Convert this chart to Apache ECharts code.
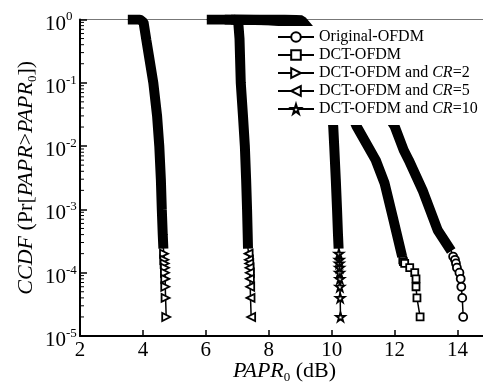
<!DOCTYPE html>
<html>
<head>
<meta charset="utf-8">
<script src="https://cdn.jsdelivr.net/npm/echarts@6/dist/echarts.min.js"></script>
<style>
  html, body { margin: 0; padding: 0; background: #fff; }
  #chart { width: 483px; height: 391px; }
</style>
</head>
<body>
<div id="chart"></div>
<script>
const FONT = 'Liberation Serif';

const seriesNames = ['Original-OFDM', 'DCT-OFDM', 'DCT-OFDM and CR=2', 'DCT-OFDM and CR=5', 'DCT-OFDM and CR=10'];

// PAPR0 (dB) / CCDF pairs; the first `band` points form the thick black band
const origPapr = [6.8, 8.2, 9.1, 9.4, 10.3, 11.0, 11.5, 12.0, 12.29, 12.45, 12.89, 13.37, 13.8, 13.86, 13.92, 13.95, 13.98, 14.06, 14.1, 14.12, 14.15, 14.18];
const origCcdf = [1, 0.97, 0.9, 0.6, 0.35, 0.12, 0.05, 0.0206, 0.0086, 0.006, 0.002, 4.7e-4, 2.2e-4, 1.8e-4, 1.6e-4, 1.4e-4, 1.2e-4, 1e-4, 8e-5, 6e-5, 4e-5, 2e-5];
const origBand = 13;

const dctPapr = [6.6, 8.0, 9.0, 9.3, 10.0, 10.4, 10.79, 11.4, 11.68, 11.94, 12.24, 12.26, 12.28, 12.32, 12.48, 12.64, 12.68, 12.68, 12.71, 12.81];
const dctCcdf = [1, 0.97, 0.9, 0.55, 0.2, 0.06, 0.0206, 0.006, 0.0026, 7.6e-4, 1.8e-4, 1.6e-4, 1.5e-4, 1.4e-4, 1.2e-4, 1e-4, 8e-5, 6e-5, 4e-5, 2e-5];
const dctBand = 11;

const cr2Papr = [3.52, 3.9, 4.02, 4.11, 4.2, 4.33, 4.45, 4.52, 4.57, 4.6, 4.63, 4.65, 4.67, 4.68, 4.69, 4.7, 4.7, 4.71, 4.71, 4.72, 4.74];
const cr2Ccdf = [1, 1, 0.9, 0.47, 0.25, 0.1, 0.03, 0.01, 0.003, 0.001, 4e-4, 2.4e-4, 2e-4, 1.6e-4, 1.4e-4, 1.2e-4, 1e-4, 8e-5, 6e-5, 4e-5, 2e-5];
const cr2Band = 12;

const cr5Papr = [6.03, 6.9, 7.03, 7.07, 7.11, 7.18, 7.24, 7.28, 7.31, 7.33, 7.34, 7.36, 7.37, 7.38, 7.39, 7.4, 7.4, 7.41, 7.42, 7.44];
const cr5Ccdf = [1, 1, 0.9, 0.5, 0.1, 0.03, 0.01, 0.003, 0.001, 4e-4, 2.4e-4, 2e-4, 1.6e-4, 1.4e-4, 1.2e-4, 1e-4, 8e-5, 6e-5, 4e-5, 2e-5];
const cr5Band = 11;

const cr10Papr = [6.9, 8.5, 9.05, 9.3, 9.8, 9.95, 10.05, 10.08, 10.13, 10.17, 10.2, 10.22, 10.23, 10.24, 10.24, 10.25, 10.25, 10.26, 10.26, 10.27, 10.28];
const cr10Ccdf = [1, 1, 0.97, 0.6, 0.2, 0.07, 0.02, 0.01, 0.003, 0.001, 4e-4, 2.4e-4, 2e-4, 1.6e-4, 1.4e-4, 1.2e-4, 1e-4, 8e-5, 6e-5, 4e-5, 2e-5];
const cr10Band = 12;

// log axis decades and minor tick mantissas
const decades = [1e-5, 1e-4, 1e-3, 1e-2, 1e-1];
const minorMantissas = [2, 3, 4, 5, 6, 7, 8, 9];

const STAR = 'path://M50,0 L61,35 L98,35 L68,57 L79,91 L50,70 L21,91 L32,57 L2,35 L39,35 Z';

const curves = [
  { x: origPapr, y: origCcdf, band: origBand, symbol: 'circle', rotate: 0, size: 8 },
  { x: dctPapr, y: dctCcdf, band: dctBand, symbol: 'rect', rotate: 0, size: 7 },
  { x: cr2Papr, y: cr2Ccdf, band: cr2Band, symbol: 'triangle', rotate: -90, size: 8 },
  { x: cr5Papr, y: cr5Ccdf, band: cr5Band, symbol: 'triangle', rotate: 90, size: 8 },
  { x: cr10Papr, y: cr10Ccdf, band: cr10Band, symbol: STAR, rotate: 0, size: 9 }
];

const minorTicks = [];
decades.forEach(d => minorMantissas.forEach(m => minorTicks.push([2, d * m])));

const series = [];
curves.forEach((c, i) => {
  series.push({
    name: seriesNames[i],
    type: 'line',
    z: 2,
    symbol: c.symbol,
    symbolSize: c.size,
    symbolRotate: c.rotate,
    lineStyle: { color: '#000', width: 1.5 },
    itemStyle: { color: '#fff', borderColor: '#000', borderWidth: 1.8 },
    data: c.x.map((x, j) => j < c.band ? { value: [x, c.y[j]], symbol: 'none' } : [x, c.y[j]])
  });
  series.push({
    type: 'line',
    z: 3,
    silent: true,
    symbol: 'none',
    lineStyle: { color: '#000', width: 10 },
    data: c.x.slice(0, c.band).map((x, j) => [x, c.y[j]])
  });
});

series.push({
  type: 'custom',
  silent: true,
  clip: false,
  z: 4,
  data: minorTicks,
  renderItem: (params, api) => {
    const p = api.coord([api.value(0), api.value(1)]);
    return {
      type: 'line',
      shape: { x1: p[0], y1: p[1], x2: p[0] + 4, y2: p[1] },
      style: { stroke: '#000', lineWidth: 1 }
    };
  }
});

const chart = echarts.init(document.getElementById('chart'));
chart.setOption({
  animation: false,
  backgroundColor: '#fff',
  grid: {
    left: 80, width: 409, top: 19.5, bottom: 55,
    outerBoundsMode: 'none',
    show: true, borderColor: '#777', borderWidth: 1
  },
  legend: {
    data: seriesNames,
    orient: 'vertical',
    left: 272,
    top: 26,
    z: 10,
    padding: [2, 10, 7, 5],
    itemGap: 0,
    itemWidth: 36,
    itemHeight: 12,
    itemTextGap: 4,
    backgroundColor: '#fff',
    formatter: name => name.replace('CR', '{i|CR}'),
    textStyle: {
      fontFamily: FONT, fontSize: 16, color: '#000', lineHeight: 18,
      rich: { i: { fontFamily: FONT, fontSize: 16, fontStyle: 'italic', color: '#000', lineHeight: 18 } }
    }
  },
  xAxis: {
    type: 'value',
    min: 2,
    max: 15,
    interval: 2,
    name: '{i|PAPR}{sub|0} (dB)',
    nameLocation: 'middle',
    nameGap: 22,
    nameMoveOverlap: false,
    nameTextStyle: {
      fontFamily: FONT, fontSize: 22, color: '#000', lineHeight: 26,
      rich: {
        i: { fontFamily: FONT, fontSize: 22, fontStyle: 'italic', color: '#000', lineHeight: 26 },
        sub: { fontFamily: FONT, fontSize: 13, color: '#000', lineHeight: 14, verticalAlign: 'bottom' }
      }
    },
    axisLine: { lineStyle: { color: '#000', width: 2 } },
    axisTick: { inside: true, length: 6, lineStyle: { color: '#000', width: 1.5 } },
    axisLabel: { fontFamily: FONT, fontSize: 21, color: '#000', margin: 4, showMaxLabel: false },
    splitLine: { show: false }
  },
  yAxis: {
    type: 'log',
    logBase: 10,
    min: 1e-5,
    max: 1,
    name: '{i|CCDF} (Pr[{i|PAPR}>{i|PAPR}{sub|0}])',
    nameLocation: 'middle',
    nameGap: 41,
    nameMoveOverlap: false,
    nameTextStyle: {
      fontFamily: FONT, fontSize: 22, color: '#000', lineHeight: 26,
      rich: {
        i: { fontFamily: FONT, fontSize: 22, fontStyle: 'italic', color: '#000', lineHeight: 26 },
        sub: { fontFamily: FONT, fontSize: 13, color: '#000', lineHeight: 14, verticalAlign: 'bottom' }
      }
    },
    axisLine: { lineStyle: { color: '#000', width: 2 } },
    axisTick: { inside: true, length: 7, lineStyle: { color: '#000', width: 1.5 } },
    axisLabel: {
      align: 'left',
      margin: 35,
      padding: [6, 0, 0, 0],
      formatter: v => '{b|10}{s|' + Math.round(Math.log10(v)) + '}',
      rich: {
        b: { fontFamily: FONT, fontSize: 21, color: '#000', lineHeight: 24, verticalAlign: 'bottom' },
        s: { fontFamily: FONT, fontSize: 13, color: '#000', lineHeight: 13, verticalAlign: 'top' }
      }
    },
    splitLine: { show: false }
  },
  series: series
});
</script>
</body>
</html>
